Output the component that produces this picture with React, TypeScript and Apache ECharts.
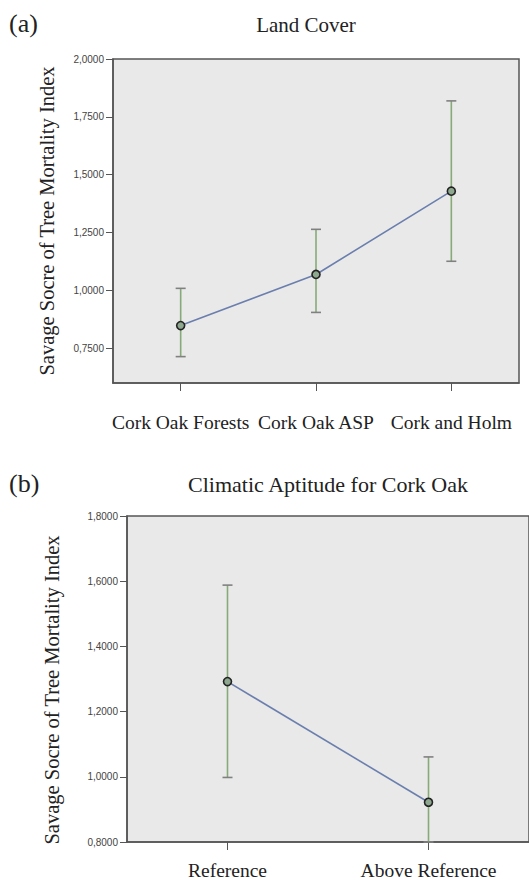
import React, { useEffect, useRef } from "react";
import * as echarts from "echarts";

const landCats = ["Cork Oak Forests", "Cork Oak ASP", "Cork and Holm"];
const landMean = [0.848, 1.069, 1.429];
const landLow = [0.714, 0.905, 1.126];
const landHigh = [1.009, 1.264, 1.819];
const landTicks = [0.75, 1.0, 1.25, 1.5, 1.75, 2.0];

const climCats = ["Reference", "Above Reference"];
const climMean = [1.292, 0.922];
const climLow = [0.998, 0.8];
const climHigh = [1.588, 1.061];

const SERIF = "Liberation Serif";
const SANS = "Liberation Sans";
const Y_NAME = "Savage Socre of Tree Mortality Index";

const fmt = (v: number) => v.toFixed(4).replace(".", ",");

function errRender(params: any, api: any) {
  const x = api.value(0);
  const lo = api.coord([x, api.value(1)]);
  const hi = api.coord([x, api.value(2)]);
  const w = 5;
  return {
    type: "group",
    children: [
      { type: "line", shape: { x1: lo[0], y1: lo[1], x2: hi[0], y2: hi[1] }, style: { stroke: "#86aa78", lineWidth: 1.6 } },
      { type: "line", shape: { x1: lo[0] - w, y1: lo[1], x2: lo[0] + w, y2: lo[1] }, style: { stroke: "#808080", lineWidth: 1.6 } },
      { type: "line", shape: { x1: hi[0] - w, y1: hi[1], x2: hi[0] + w, y2: hi[1] }, style: { stroke: "#808080", lineWidth: 1.6 } },
    ],
  };
}

export default function App() {
  const ref = useRef<HTMLDivElement>(null);
  useEffect(() => {
    if (!ref.current) return;
    const chart = echarts.init(ref.current, undefined, { renderer: "svg" });
    const yAxisCommon = {
      type: "value" as const,
      splitLine: { show: false },
      axisLine: { show: true, lineStyle: { color: "#555", width: 1.5 } },
      axisTick: { show: true, length: 7, lineStyle: { color: "#555", width: 1 } },
      axisLabel: { fontFamily: SANS, fontSize: 10, color: "#444", margin: 9, formatter: (v: number) => fmt(v) },
    };
    const xAxisCommon = {
      type: "category" as const,
      boundaryGap: true,
      axisLine: { show: true, lineStyle: { color: "#555", width: 1.5 } },
      axisTick: { show: true, alignWithLabel: true, length: 8, lineStyle: { color: "#555", width: 1 } },
      axisLabel: { fontFamily: SERIF, fontSize: 19.5, color: "#222", interval: 0, hideOverlap: false },
      splitLine: { show: false },
    };
    chart.setOption({
      animation: false,
      grid: [
        { left: 113, top: 59, right: 10, bottom: 497, show: true, backgroundColor: "#e9e9e9", borderColor: "#555", borderWidth: 1.5 },
        { left: 127, top: 516, right: -2, bottom: 38, show: true, backgroundColor: "#e9e9e9", borderColor: "#555", borderWidth: 1.5 },
      ],
      xAxis: [
        { ...xAxisCommon, gridIndex: 0, data: landCats, axisLabel: { ...xAxisCommon.axisLabel, margin: 29 } },
        { ...xAxisCommon, gridIndex: 1, data: climCats, axisLabel: { ...xAxisCommon.axisLabel, margin: 18 } },
      ],
      yAxis: [
        {
          ...yAxisCommon,
          gridIndex: 0,
          min: 0.6,
          max: 2.0,
          axisTick: { ...yAxisCommon.axisTick, customValues: landTicks },
          axisLabel: { ...yAxisCommon.axisLabel, customValues: landTicks },
        },
        { ...yAxisCommon, gridIndex: 1, min: 0.8, max: 1.8, interval: 0.2 },
      ],
      graphic: [
        { type: "text", left: 9, top: 10, style: { text: "(a)", font: `26px '${SERIF}'`, fill: "#222" } },
        { type: "text", x: 306, y: 25, style: { text: "Land Cover", font: `21px '${SERIF}'`, fill: "#222", align: "center", verticalAlign: "middle" } },
        { type: "text", left: 9, top: 470, style: { text: "(b)", font: `26px '${SERIF}'`, fill: "#222" } },
        { type: "text", x: 328, y: 484, style: { text: "Climatic Aptitude for Cork Oak", font: `22px '${SERIF}'`, fill: "#222", align: "center", verticalAlign: "middle" } },
        { type: "text", x: 47, y: 221, rotation: Math.PI / 2, style: { text: Y_NAME, font: `20.5px '${SERIF}'`, fill: "#222", align: "center", verticalAlign: "middle" } },
        { type: "text", x: 52, y: 690, rotation: Math.PI / 2, style: { text: Y_NAME, font: `20.5px '${SERIF}'`, fill: "#222", align: "center", verticalAlign: "middle" } },
      ],
      series: [
        {
          type: "custom",
          xAxisIndex: 0,
          yAxisIndex: 0,
          renderItem: errRender,
          data: landCats.map((_, i) => [i, landLow[i], landHigh[i]]),
          z: 2,
        },
        {
          type: "line",
          xAxisIndex: 0,
          yAxisIndex: 0,
          data: landMean,
          symbol: "circle",
          symbolSize: 8,
          lineStyle: { color: "#6b7fae", width: 1.6 },
          itemStyle: { color: "#8ea890", borderColor: "#222", borderWidth: 1.6 },
          z: 3,
        },
        {
          type: "custom",
          xAxisIndex: 1,
          yAxisIndex: 1,
          renderItem: errRender,
          data: climCats.map((_, i) => [i, climLow[i], climHigh[i]]),
          z: 2,
        },
        {
          type: "line",
          xAxisIndex: 1,
          yAxisIndex: 1,
          data: climMean,
          symbol: "circle",
          symbolSize: 8,
          lineStyle: { color: "#6b7fae", width: 1.6 },
          itemStyle: { color: "#8ea890", borderColor: "#222", borderWidth: 1.6 },
          z: 3,
        },
      ],
    });
    return () => chart.dispose();
  }, []);
  return <div ref={ref} style={{ position: "absolute", left: 0, top: 0, width: 529, height: 880, background: "#fff" }} />;
}
